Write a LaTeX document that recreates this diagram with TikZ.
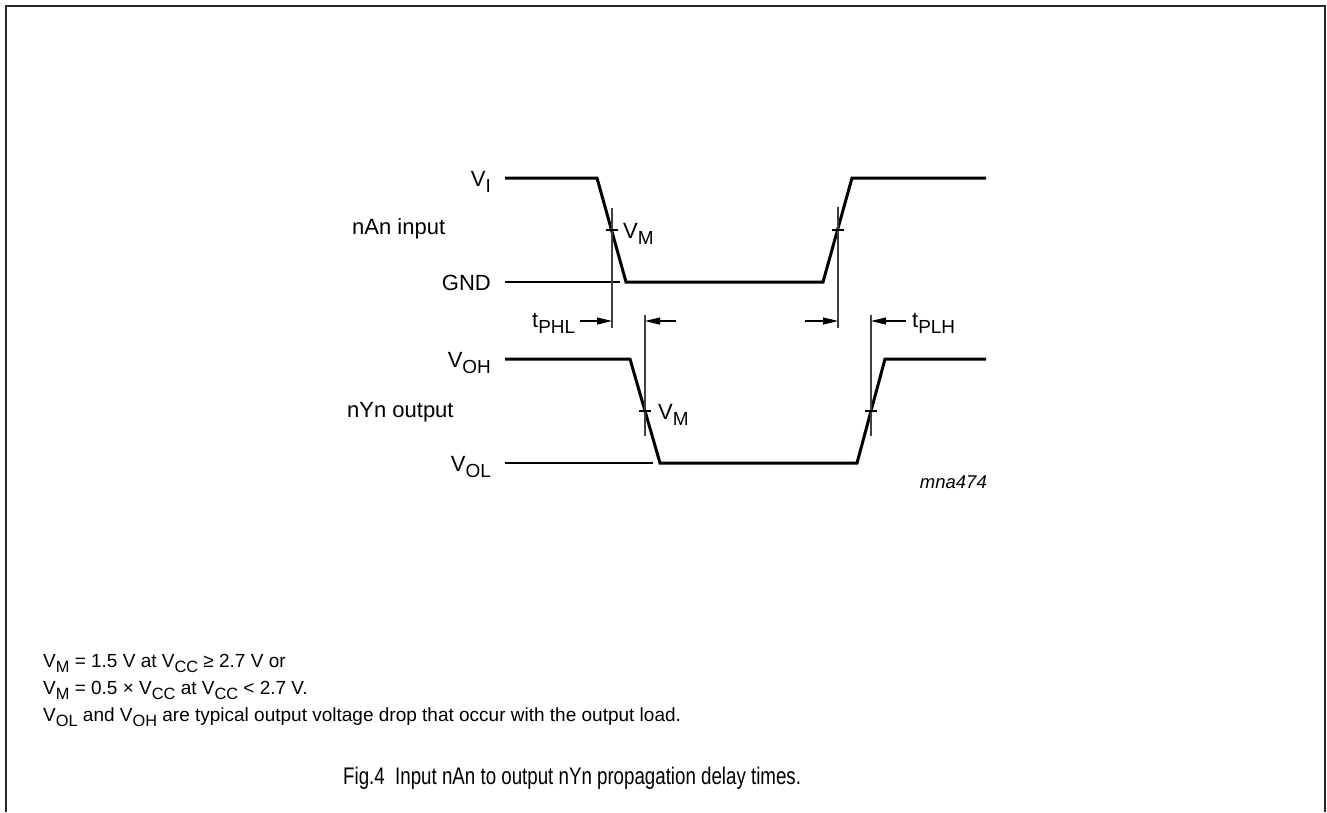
\documentclass[tikz,border=0pt]{standalone}
\usepackage{fontspec}
\usepackage{graphicx}
\setmainfont{Liberation Sans}
\newfontfamily\capfont[FakeStretch=0.78]{Liberation Sans}
\usetikzlibrary{arrows.meta}
\newcommand{\dn}[1]{\raisebox{-0.3em}{\scalebox{0.86}{#1}}}
\begin{document}
\begin{tikzpicture}[x=1pt,y=-1pt,
  wave/.style={line width=3pt},
  thin/.style={line width=1.2pt},
  guide/.style={line width=1.2pt,black!75},
  lbl/.style={font=\fontsize{22}{26}\selectfont,inner sep=0pt},
  note/.style={font=\fontsize{19}{22}\selectfont,inner sep=0pt,anchor=base west},
  dly/.style={-{Triangle[length=15pt,width=7pt]},line width=1.2pt}]
\useasboundingbox (0,0) rectangle (1327,812);
\draw[line width=2pt,black!85] (6,812)--(6,6)--(1325,6)--(1325,812);
% nAn input
\draw[wave] (505,178)--(597,178)--(626,282)--(823,282)--(852,178)--(986,178);
\draw[thin] (505,282)--(620,282);
\coordinate (inF) at (612,230);
\coordinate (inR) at (838,230);
\draw[guide] (612,208)--(612,328);
\draw[guide] (838,207)--(838,328);
\draw[thin] ([xshift=-6pt]inF)--([xshift=6pt]inF);
\draw[thin] ([xshift=-6pt]inR)--([xshift=6pt]inR);
\node[lbl,anchor=base east] (vi) at (491,186) {V\dn{I}};
\node[lbl,anchor=base west] (nain) at (352,234) {nAn input};
\node[lbl,anchor=base east] (gnd) at (491,290) {GND};
\node[lbl,anchor=base west] (vmi) at (623,238) {V\dn{M}};
% nYn output
\draw[wave] (505,359)--(630,359)--(660,463)--(857,463)--(885,359)--(986,359);
\draw[thin] (505,463)--(653,463);
\coordinate (outF) at (645,411);
\coordinate (outR) at (871,411);
\draw[guide] (645,315)--(645,436);
\draw[guide] (871,315)--(871,436);
\draw[thin] ([xshift=-6pt]outF)--([xshift=6pt]outF);
\draw[thin] ([xshift=-6pt]outR)--([xshift=6pt]outR);
\node[lbl,anchor=base east] (voh) at (491,367) {V\dn{OH}};
\node[lbl,anchor=base west] (nyout) at (347,417) {nYn output};
\node[lbl,anchor=base east] (vol) at (491,471) {V\dn{OL}};
\node[lbl,anchor=base west] (vmo) at (658,419) {V\dn{M}};
% delays
\coordinate (phlA) at (612,321);
\coordinate (phlB) at (645,321);
\coordinate (plhA) at (838,321);
\coordinate (plhB) at (871,321);
\draw[dly] ([xshift=-32pt]phlA)--(phlA);
\draw[dly] ([xshift=31pt]phlB)--(phlB);
\draw[dly] ([xshift=-33pt]plhA)--(plhA);
\draw[dly] ([xshift=35pt]plhB)--(plhB);
\node[lbl,anchor=base west] (tphl) at (532,327) {t\dn{PHL}};
\node[lbl,anchor=base west] (tplh) at (912,327) {t\dn{PLH}};
\node[inner sep=0pt,anchor=base east,font=\fontsize{18.5}{22}\selectfont\itshape] (code) at (987,488) {mna474};
% notes
\node[note] (n1) at (43,667) {V\dn{M} = 1.5 V at V\dn{CC} ≥ 2.7 V or};
\node[note] (n2) at (43,694) {V\dn{M} = 0.5 × V\dn{CC} at V\dn{CC} < 2.7 V.};
\node[note] (n3) at (43,721) {V\dn{OL} and V\dn{OH} are typical output voltage drop that occur with the output load.};
\node[inner sep=0pt,anchor=base west,font=\fontsize{24}{28}\capfont] (cap) at (343,784) {Fig.4\ \ Input nAn to output nYn propagation delay times.};
\end{tikzpicture}
\end{document}
